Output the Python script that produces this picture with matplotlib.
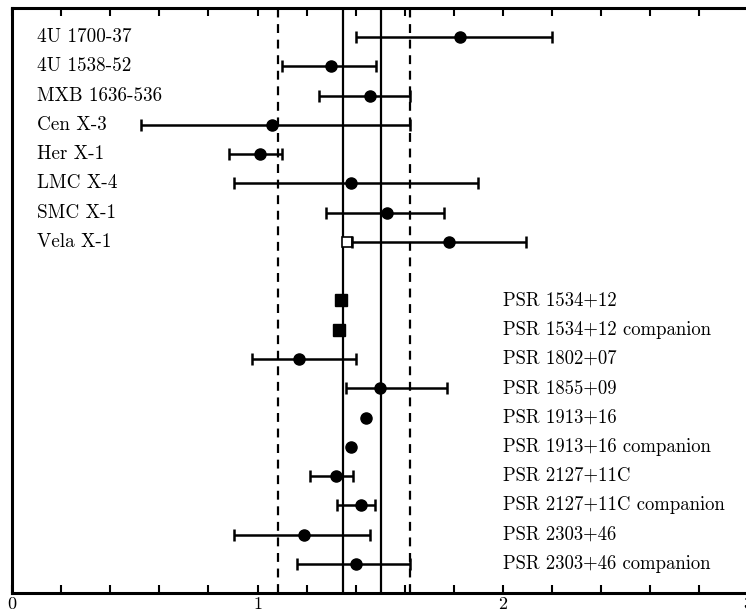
import numpy as np
import matplotlib
matplotlib.use("Agg")
import matplotlib.pyplot as plt

plt.rcParams['font.family'] = ['cmr10', 'DejaVu Serif']
plt.rcParams['axes.formatter.use_mathtext'] = True

# X-ray binaries: mass and error interval (solar masses)
xray_names = ["4U 1700-37", "4U 1538-52", "MXB 1636-536", "Cen X-3",
              "Her X-1", "LMC X-4", "SMC X-1", "Vela X-1"]
xray_mass = [1.825, 1.30, 1.458, 1.059, 1.01, 1.381, 1.527, 1.779]
xray_lo = [1.40, 1.099, 1.25, 0.524, 0.884, 0.904, 1.279, 1.384]
xray_hi = [2.20, 1.483, 1.621, 1.621, 1.10, 1.90, 1.76, 2.094]
vela_alt = 1.365

# radio pulsars (nan = no error bar drawn)
psr_names = ["PSR 1534+12", "PSR 1534+12 companion", "PSR 1802+07",
             "PSR 1855+09", "PSR 1913+16", "PSR 1913+16 companion",
             "PSR 2127+11C", "PSR 2127+11C companion", "PSR 2303+46",
             "PSR 2303+46 companion"]
psr_mass = [1.341, 1.331, 1.17, 1.50, 1.44, 1.382, 1.32, 1.42, 1.19, 1.40]
psr_lo = [np.nan, np.nan, 0.976, 1.36, np.nan, np.nan, 1.215, 1.324, 0.906, 1.161]
psr_hi = [np.nan, np.nan, 1.40, 1.77, np.nan, np.nan, 1.39, 1.48, 1.457, 1.622]
psr_marker = ["s", "s", "o", "o", "o", "o", "o", "o", "o", "o"]

solid_lines = [1.35, 1.503]
dashed_lines = [1.085, 1.622]

fig = plt.figure(figsize=(7.46, 6.12), dpi=100)
ax = fig.add_axes([0.0161, 0.031, 0.9873, 0.956])

for v in solid_lines:
    ax.axvline(v, color='black', lw=1.6, zorder=1)
for v in dashed_lines:
    ax.axvline(v, color='black', lw=1.6, ls=(0, (4, 3)), zorder=1)

ekw = dict(color='black', ecolor='black', elinewidth=1.8, capsize=4.5,
           capthick=1.8, ms=8, zorder=3)

row = 0
for name, m, lo, hi in zip(xray_names, xray_mass, xray_lo, xray_hi):
    if name == "Vela X-1":
        ax.plot(vela_alt, row, 's', mfc='white', mec='black', ms=7,
                mew=1.2, zorder=2)
    ax.errorbar(m, row, xerr=[[m - lo], [hi - m]], fmt='o', **ekw)
    ax.text(0.1, row, name, fontsize=13.8, va='center', ha='left')
    row += 1

row += 1  # blank row between the two groups
for name, m, lo, hi, mk in zip(psr_names, psr_mass, psr_lo, psr_hi, psr_marker):
    if np.isnan(lo):
        ax.plot(m, row, mk, color='black', ms=8, zorder=3)
    else:
        ax.errorbar(m, row, xerr=[[m - lo], [hi - m]], fmt=mk, **ekw)
    ax.text(2.0, row, name, fontsize=13.5, va='center', ha='left')
    row += 1

ax.set_xlim(0, 3)
ax.set_ylim(19, -1)
ax.set_xticks([0, 1, 2, 3])
ax.set_xticks(np.arange(0, 3.01, 0.2), minor=True)
ax.set_yticks([])
ax.tick_params(axis='x', which='both', direction='in', top=True,
               length=6, width=1.5, labelsize=13, pad=2)
for s in ax.spines.values():
    s.set_linewidth(2.2)

fig.savefig("out.png", dpi=100)
